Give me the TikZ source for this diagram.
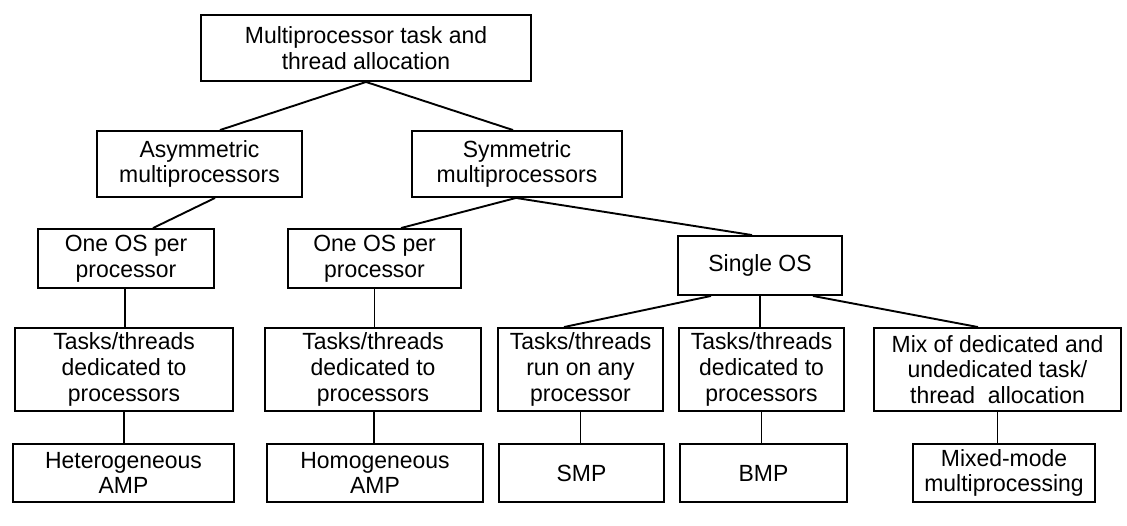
\documentclass[tikz,border=0pt]{standalone}
\usepackage{fontspec}
\setmainfont{Liberation Sans}[FakeStretch=0.98]
\begin{document}
\begin{tikzpicture}[x=1pt,y=-1pt,
  box/.style={draw=black, line width=1.9pt, inner sep=0pt, align=center,
    font=\fontsize{23.4}{25.8}\selectfont},
  link/.style={draw=black, line width=1.9pt}]
\useasboundingbox (0,0) rectangle (1127,525);
\fill[white] (0,0) rectangle (1127,525);
% level 0
\node[box, minimum width=330pt, minimum height=66pt] (root) at (366,48) {Multiprocessor task and\\thread allocation};
% level 1
\node[box, minimum width=205pt, minimum height=66pt] (asym) at (199.5,164) {Asymmetric\\multiprocessors};
\node[box, minimum width=210pt, minimum height=66pt] (sym) at (517,164) {Symmetric\\multiprocessors};
% level 2
\node[box, minimum width=176pt, minimum height=59pt] (os1) at (126,258.5) {One OS per\\processor};
\node[box, minimum width=173pt, minimum height=59pt] (os2) at (374.5,258.5) {One OS per\\processor};
\node[box, minimum width=164pt, minimum height=59pt] (single) at (760,265.5) {Single OS};
% level 3
\node[box, minimum width=218pt, minimum height=83pt] (t1) at (124,369.5) {Tasks/threads\\dedicated to\\processors};
\node[box, minimum width=216pt, minimum height=83pt] (t2) at (373,369.5) {Tasks/threads\\dedicated to\\processors};
\node[box, minimum width=165pt, minimum height=83pt] (t3) at (580.5,369.5) {Tasks/threads\\run on any\\processor};
\node[box, minimum width=165pt, minimum height=83pt] (t4) at (761.5,369.5) {Tasks/threads\\dedicated to\\processors};
\node[box, minimum width=247pt, minimum height=83pt] (mix) at (997.5,369.5) {Mix of dedicated and\\undedicated task/\\thread\ \ allocation};
% level 4
\node[box, minimum width=221pt, minimum height=58pt] (hetero) at (123.5,473) {Heterogeneous\\AMP};
\node[box, minimum width=216pt, minimum height=58pt] (homo) at (375,473) {Homogeneous\\AMP};
\node[box, minimum width=165pt, minimum height=58pt] (smp) at (581.5,473) {SMP};
\node[box, minimum width=167pt, minimum height=58pt] (bmp) at (763.5,473) {BMP};
\node[box, minimum width=182pt, minimum height=58pt] (mixed) at (1004,473) {Mixed-mode\\multiprocessing};
% connectors
\draw[link] (root.south) -- ([xshift=20.5pt]asym.north);
\draw[link] (root.south) -- ([xshift=-4pt]sym.north);
\draw[link] ([xshift=15.5pt]asym.south) -- ([xshift=27pt]os1.north);
\draw[link] ([xshift=-1pt]sym.south) -- ([xshift=26.5pt]os2.north);
\draw[link] ([xshift=-1pt]sym.south) -- ([xshift=-8pt]single.north);
\draw[link] ([xshift=-1pt]os1.south) -- ([xshift=-1pt]os1.south |- t1.north);
\draw[link] (os2.south) -- (os2.south |- t2.north);
\draw[link] ([xshift=-49pt]single.south) -- ([xshift=-16.5pt]t3.north);
\draw[link] (single.south) -- (single.south |- t4.north);
\draw[link] ([xshift=53pt]single.south) -- ([xshift=-19.5pt]mix.north);
\draw[link] (t1.south) -- (t1.south |- hetero.north);
\draw[link] ([xshift=1pt]t2.south) -- ([xshift=1pt]t2.south |- homo.north);
\draw[link] (t3.south) -- (t3.south |- smp.north);
\draw[link] (t4.south) -- (t4.south |- bmp.north);
\draw[link] (mix.south) -- (mix.south |- mixed.north);
\end{tikzpicture}
\end{document}
